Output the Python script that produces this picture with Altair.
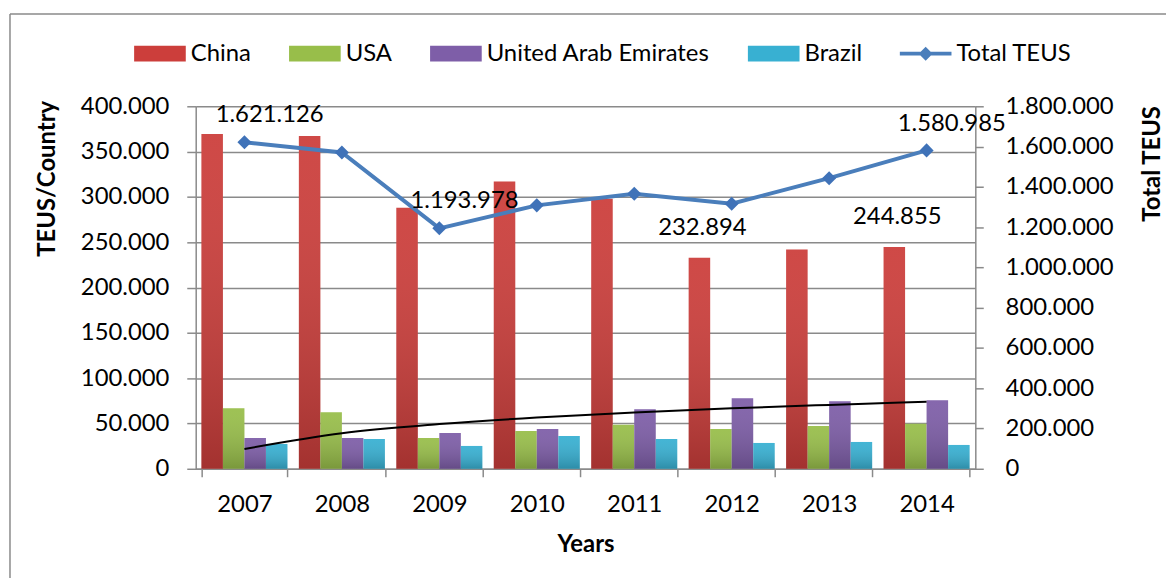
import altair as alt
import pandas as pd

# ---- data ----
years = ["2007", "2008", "2009", "2010", "2011", "2012", "2013", "2014"]
countries = ["China", "USA", "United Arab Emirates", "Brazil"]
china = [369300, 367100, 288100, 317000, 298000, 232894, 242000, 244855]
usa = [66900, 62500, 34000, 41700, 48600, 43900, 47200, 49700]
uae = [34000, 34000, 39500, 43900, 65800, 77900, 74600, 75700]
brazil = [27400, 32900, 25200, 36200, 32900, 28500, 29600, 26300]
total_teus = [1621126, 1571000, 1193978, 1308000, 1366000, 1316000, 1443000, 1580985]
trend = [21900, 39200, 49300, 56600, 62100, 66700, 70500, 73900]
total_label_years = ["2007", "2009", "2014"]
china_label_years = ["2012", "2014"]
left_ticks = [0, 50000, 100000, 150000, 200000, 250000, 300000, 350000, 400000]
right_ticks = [0, 200000, 400000, 600000, 800000, 1000000, 1200000, 1400000, 1600000, 1800000]

# ---- styling ----
top_colors = ["#CC3E3B", "#98BE4A", "#7E5EA8", "#38B0D2"]
line_color = "#4A7EBB"
point_color = "#3F72B8"
gray = "#8A8A8A"
FONT = "Lato"
FS = 24

bars_df = pd.DataFrame(
    [{"year": y, "country": c, "value": v}
     for c, vals in zip(countries, [china, usa, uae, brazil])
     for y, v in zip(years, vals)]
)
china_lab_df = bars_df[(bars_df.country == "China") & (bars_df.year.isin(china_label_years))]
total_df = pd.DataFrame({"year": years, "total": total_teus})
total_lab_df = total_df[total_df.year.isin(total_label_years)]
trend_df = pd.DataFrame({"year": years, "trend": trend})
frame_df = pd.DataFrame({"k": [0]})

fmt = "replace(replace(format(datum.value, ','), ',', '.'), ',', '.')"

x_enc = alt.X(
    "year:N", sort=years,
    scale=alt.Scale(paddingInner=0.117, paddingOuter=0.0585),
    axis=alt.Axis(title="Years", tickBand="extent", tickSize=8, labelPadding=16,
                  labelAngle=0, grid=False, titleY=83, titleBaseline="alphabetic"),
)
xoff = alt.XOffset("country:N", sort=countries,
                   scale=alt.Scale(domain=countries, paddingInner=0, paddingOuter=0))

left_scale = alt.Scale(domain=[0, 400000], nice=False, zero=True)
left_axis = alt.Axis(title="TEUS/Country", values=left_ticks, labelExpr=fmt, tickSize=9,
                     labelPadding=18, grid=True, titleAngle=270, titleX=-142, titleY=72.5,
                     titleAlign="center", titleBaseline="alphabetic", labelOverlap=False)
right_scale = alt.Scale(domain=[0, 1800000], nice=False, zero=True)
right_axis = alt.Axis(title="Total TEUS", orient="right", values=right_ticks, labelExpr=fmt,
                      tickSize=8, labelPadding=22, grid=False, titleAngle=270, titleX=185,
                      titleY=57.5, titleAlign="center", titleBaseline="alphabetic",
                      labelOverlap=False)

rect_path = "M-1,-0.3077H1V0.3077H-1Z"
line_path = "M-1,-0.07H1V0.07H-1Z M0,-0.27L0.27,0L0,0.27L-0.27,0Z"
shape_expr = "datum.value === 'Total TEUS' ? '%s' : '%s'" % (line_path, rect_path)

legend = alt.Legend(
    title=None, orient="none", legendX=-62, legendY=-79, direction="horizontal",
    columns=5, labelFont=FONT, labelFontSize=FS, labelColor="black", labelOffset=5,
    columnPadding=38, symbolSize=2704, symbolStrokeWidth=0, padding=0, labelLimit=0,
    symbolType={"expr": shape_expr}, symbolOpacity=1,
)

bars = alt.Chart(bars_df).mark_bar(opacity=1).encode(
    x=x_enc, xOffset=xoff,
    y=alt.Y("value:Q", scale=left_scale, axis=left_axis),
    color=alt.Color("country:N",
                    scale=alt.Scale(domain=countries + ["Total TEUS"],
                                    range=top_colors + [line_color]),
                    legend=legend),
)
shade = alt.Chart(bars_df).mark_bar(
    fill=alt.LinearGradient(
        gradient="linear", x1=0, y1=0, x2=0, y2=1,
        stops=[alt.GradientStop(offset=0, color="rgba(255,255,255,0.06)"),
               alt.GradientStop(offset=1, color="rgba(0,0,0,0.2)")])
).encode(x=x_enc, xOffset=xoff, y=alt.Y("value:Q", scale=left_scale, axis=left_axis))

trend_line = alt.Chart(trend_df).mark_line(color="black", strokeWidth=2,
                                           interpolate="monotone").encode(
    x=x_enc, y=alt.Y("trend:Q", scale=left_scale, axis=left_axis))

china_labels = alt.Chart(china_lab_df).transform_calculate(
    lab="replace(format(datum.value, ','), ',', '.')"
).mark_text(font=FONT, fontSize=FS, color="black", baseline="middle", dx=3, dy=-30).encode(
    x=x_enc, xOffset=xoff, y=alt.Y("value:Q", scale=left_scale, axis=left_axis),
    text="lab:N")

frame_v = alt.Chart(frame_df).mark_rule(color=gray, strokeWidth=1.5).encode(
    x=alt.value(-187), y=alt.value(-93), y2=alt.value(490))
frame_h = alt.Chart(frame_df).mark_rule(color=gray, strokeWidth=1.5).encode(
    x=alt.value(-187), x2=alt.value(1000), y=alt.value(-93))

left = alt.layer(bars, shade, trend_line, china_labels, frame_v, frame_h)

tot_line = alt.Chart(total_df).mark_line(color=line_color, strokeWidth=4).encode(
    x=x_enc, y=alt.Y("total:Q", scale=right_scale, axis=right_axis))
tot_pts = alt.Chart(total_df).mark_point(shape="diamond", filled=True, size=200,
                                         color=point_color, opacity=1).encode(
    x=x_enc, y=alt.Y("total:Q", scale=right_scale, axis=right_axis))
tot_labels = alt.Chart(total_lab_df).transform_calculate(
    lab="replace(replace(format(datum.total, ','), ',', '.'), ',', '.')"
).mark_text(font=FONT, fontSize=FS, color="black", align="left", baseline="middle",
            dx=-29, dy=-27).encode(
    x=x_enc, y=alt.Y("total:Q", scale=right_scale, axis=right_axis), text="lab:N")

right = alt.layer(tot_line, tot_pts, tot_labels)

chart = alt.layer(left, right).resolve_scale(y="independent").properties(
    width=785, height=365,
    autosize=alt.AutoSizeParams(type="none"),
    padding={"left": 189, "top": 97, "right": 192, "bottom": 108},
).configure_view(stroke=None).configure_axis(
    labelFont=FONT, labelFontSize=FS, labelColor="black",
    titleFont=FONT, titleFontSize=FS, titleFontWeight="bold", titleColor="black",
    domainColor=gray, domainWidth=1.5, tickColor=gray, tickWidth=1.5,
    gridColor=gray, gridWidth=1.5, gridOpacity=1,
)

chart.save("out.html", embed_options={"renderer": "svg", "actions": False})
